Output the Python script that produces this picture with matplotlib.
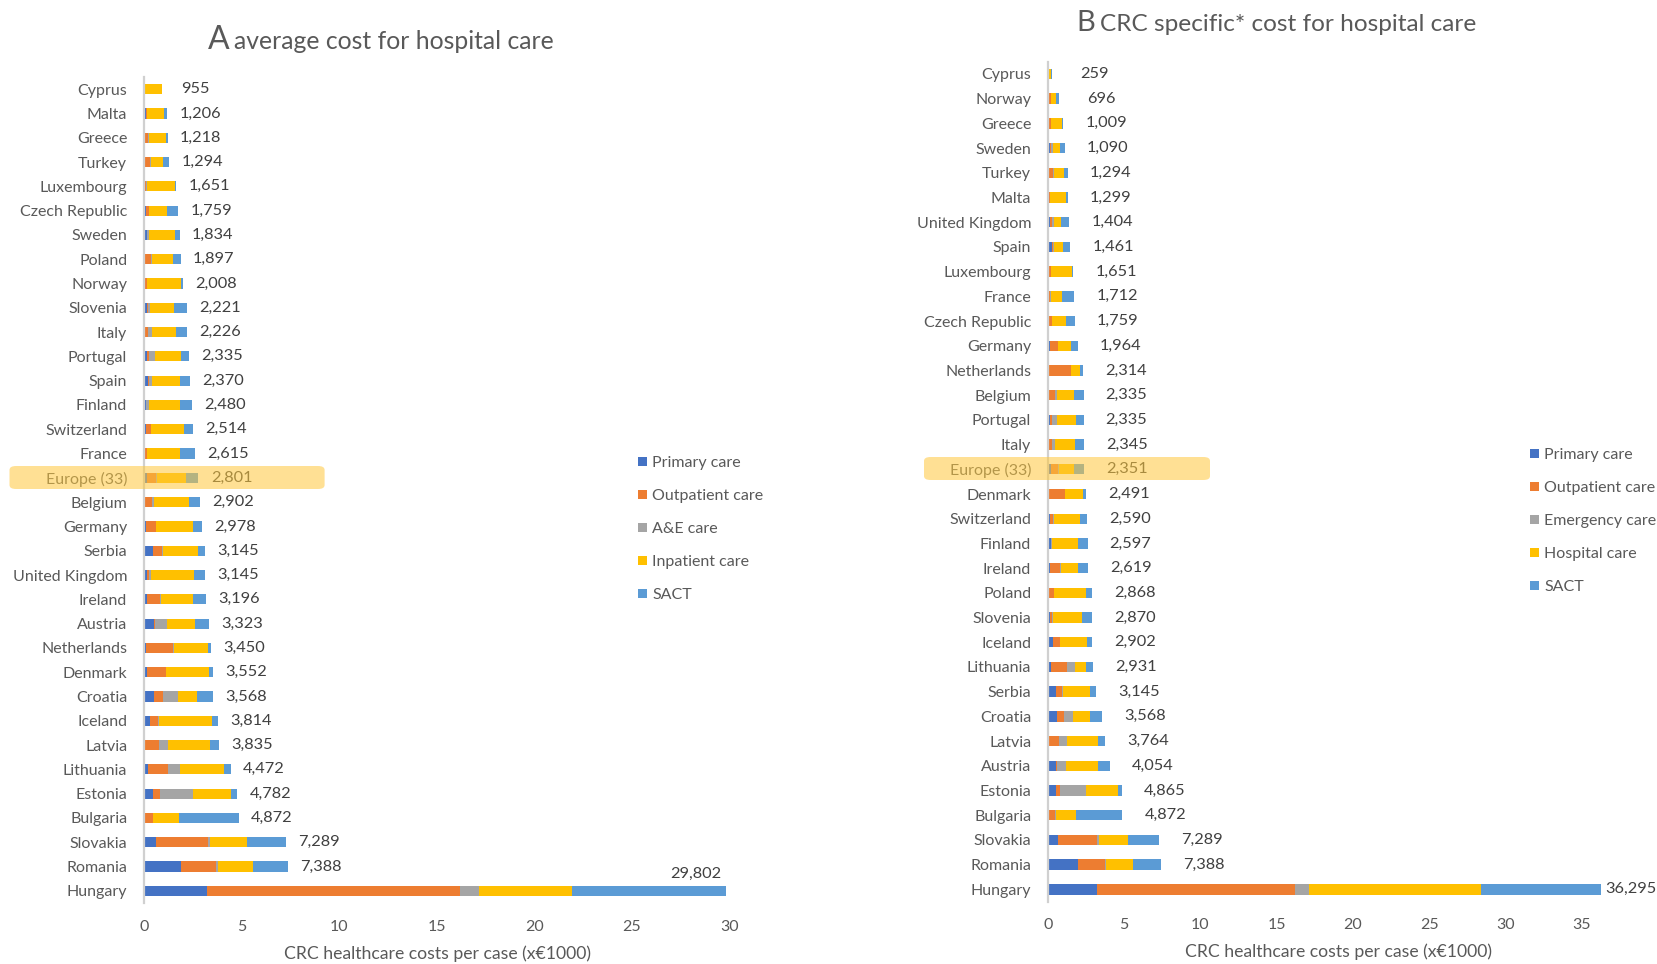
import numpy as np
import matplotlib
matplotlib.use("Agg")
import matplotlib.pyplot as plt
from matplotlib.patches import FancyBboxPatch, Patch

plt.rcParams["font.family"] = ["Lato", "DejaVu Sans"]

# ---------------- data (costs per case, x EUR 1000) ----------------
countries_a = ["Cyprus", "Malta", "Greece", "Turkey", "Luxembourg", "Czech Republic",
               "Sweden", "Poland", "Norway", "Slovenia", "Italy", "Portugal", "Spain",
               "Finland", "Switzerland", "France", "Europe (33)", "Belgium", "Germany",
               "Serbia", "United Kingdom", "Ireland", "Austria", "Netherlands", "Denmark",
               "Croatia", "Iceland", "Latvia", "Lithuania", "Estonia", "Bulgaria",
               "Slovakia", "Romania", "Hungary"]
primary_a = [0, 0.09, 0.07, 0, 0, 0.09, 0.155, 0.07, 0.01, 0.155, 0.087, 0.157, 0.225,
             0.105, 0.104, 0.01, 0.157, 0.07, 0.103, 0.487, 0.156, 0.172, 0.537, 0.124,
             0.173, 0.545, 0.297, 0.01, 0.198, 0.495, 0.074, 0.644, 1.907, 3.245]
outpatient_a = [0.06, 0.09, 0.14, 0.30, 0.125, 0.16, 0.02, 0.28, 0.15, 0.07, 0.14, 0.122,
                0.035, 0.02, 0.243, 0.15, 0.45, 0.365, 0.533, 0.452, 0.104, 0.67, 0.052,
                1.387, 0.966, 0.446, 0.446, 0.768, 1.065, 0.322, 0.396, 2.626, 1.784, 12.931]
ae_a = [0, 0, 0.05, 0.05, 0.05, 0.035, 0.09, 0.05, 0.01, 0.07, 0.19, 0.314, 0.14, 0.12,
        0.035, 0.02, 0.087, 0.087, 0.01, 0.052, 0.104, 0.052, 0.623, 0.05, 0.02, 0.768,
        0.01, 0.446, 0.595, 1.684, 0.025, 0.099, 0.099, 0.966]
inpatient_a = [0.86, 0.88, 0.865, 0.64, 1.42, 0.9, 1.33, 1.1, 1.75, 1.27, 1.235, 1.29,
               1.436, 1.606, 1.665, 1.673, 1.48, 1.807, 1.858, 1.807, 2.207, 1.65, 1.385,
               1.709, 2.2, 0.941, 2.725, 2.155, 2.254, 1.982, 1.313, 1.932, 1.808, 4.781]
sact_a = [0.035, 0.146, 0.093, 0.304, 0.056, 0.574, 0.239, 0.397, 0.088, 0.656, 0.574,
          0.452, 0.534, 0.629, 0.467, 0.762, 0.627, 0.573, 0.474, 0.347, 0.574, 0.652,
          0.726, 0.18, 0.193, 0.868, 0.336, 0.456, 0.36, 0.299, 3.064, 1.988, 1.79, 7.879]

countries_b = ["Cyprus", "Norway", "Greece", "Sweden", "Turkey", "Malta", "United Kingdom",
               "Spain", "Luxembourg", "France", "Czech Republic", "Germany", "Netherlands",
               "Belgium", "Portugal", "Italy", "Europe (33)", "Denmark", "Switzerland",
               "Finland", "Ireland", "Poland", "Slovenia", "Iceland", "Lithuania", "Serbia",
               "Croatia", "Latvia", "Austria", "Estonia", "Bulgaria", "Slovakia", "Romania",
               "Hungary"]
primary_b = [0, 0.01, 0.09, 0.136, 0, 0.066, 0.115, 0.29, 0, 0.01, 0.066, 0.15, 0.066,
             0.066, 0.15, 0.09, 0.2, 0.09, 0.13, 0.19, 0.13, 0.02, 0.17, 0.33, 0.2, 0.5,
             0.57, 0.01, 0.5, 0.5, 0.07, 0.64, 1.95, 3.2]
outpatient_b = [0.04, 0.2, 0.11, 0.068, 0.325, 0.088, 0.138, 0.02, 0.2, 0.13, 0.2, 0.48,
                1.44, 0.39, 0.15, 0.15, 0.48, 1.03, 0.22, 0.02, 0.66, 0.37, 0.13, 0.44,
                1.07, 0.43, 0.5, 0.73, 0.1, 0.3, 0.4, 2.6, 1.8, 12.97]
emergency_b = [0, 0.02, 0.02, 0.11, 0.046, 0.01, 0.115, 0.11, 0.02, 0.09, 0.01, 0.01, 0.02,
               0.13, 0.28, 0.22, 0.05, 0.02, 0.02, 0.03, 0.09, 0.04, 0.02, 0.01, 0.53, 0.03,
               0.6, 0.5, 0.57, 1.67, 0.03, 0.1, 0.04, 0.93]
hospital_b = [0.17, 0.3, 0.72, 0.5, 0.67, 0.99, 0.46, 0.56, 1.38, 0.67, 0.93, 0.85, 0.57,
              1.11, 1.24, 1.33, 1.0, 1.16, 1.75, 1.72, 1.09, 2.07, 1.9, 1.81, 0.73, 1.8,
              1.07, 2.03, 2.1, 2.1, 1.33, 1.93, 1.77, 11.27]
sact_b = [0.049, 0.166, 0.069, 0.276, 0.253, 0.145, 0.576, 0.481, 0.051, 0.812, 0.553,
          0.474, 0.218, 0.639, 0.515, 0.555, 0.621, 0.191, 0.47, 0.637, 0.649, 0.368,
          0.65, 0.312, 0.401, 0.385, 0.828, 0.494, 0.784, 0.295, 3.042, 2.019, 1.828, 7.925]

legend_a = ["Primary care", "Outpatient care", "A&E care", "Inpatient care", "SACT"]
legend_b = ["Primary care", "Outpatient care", "Emergency care", "Hospital care", "SACT"]
colors = ["#4472C4", "#ED7D31", "#A5A5A5", "#FFC000", "#5B9BD5"]

TXT = "#595959"
VAL = "#404040"
FS = 11.5
FV = 11.8
W, H = 1658, 964

fig = plt.figure(figsize=(W / 100, H / 100), dpi=100)


def fx(px):
    return px / W


def fy(py):
    return 1 - py / H


def panel(rect, countries, series, xmax, xticks, label_off, last_above):
    ax = fig.add_axes(rect)
    n = len(countries)
    y = np.arange(n)
    left = np.zeros(n)
    for vals, c in zip(series, colors):
        v = np.array(vals)
        ax.barh(y, v, left=left, height=0.42, color=c, linewidth=0)
        left += v
    ax.set_ylim(n - 0.5, -0.5)
    ax.set_xlim(0, xmax)
    ax.set_yticks(y)
    ax.set_yticklabels(countries, fontsize=FS, color=TXT)
    ax.set_xticks(xticks)
    ax.set_xticklabels([str(t) for t in xticks], fontsize=FS, color=TXT)
    ax.tick_params(axis="y", length=0, pad=12)
    ax.tick_params(axis="x", length=0, pad=12)
    for s in ["top", "right", "bottom"]:
        ax.spines[s].set_visible(False)
    ax.spines["left"].set_color("#D0D0D0")
    ax.spines["left"].set_linewidth(1.6)
    for i, tot in enumerate(left):
        txt = f"{round(tot * 1000):,}"
        if i == n - 1 and last_above:
            ax.annotate(txt, (tot, i), xytext=(-30, 17), textcoords="offset pixels",
                        ha="center", va="center", fontsize=FV, color=VAL,
                        annotation_clip=False)
        elif i == n - 1:
            ax.annotate(txt, (tot, i), xytext=(4, 0), textcoords="offset pixels",
                        ha="left", va="center", fontsize=FV, color=VAL,
                        annotation_clip=False)
        else:
            ax.annotate(txt, (tot, i), xytext=(label_off, 0), textcoords="offset pixels",
                        ha="center", va="center", fontsize=FV, color=VAL,
                        annotation_clip=False)
    return ax


# Panel A
ax_a = panel([fx(143.8), fy(903), fx(729.6 - 143.8), fy(77) - fy(903)],
             countries_a, [primary_a, outpatient_a, ae_a, inpatient_a, sact_a],
             30, [0, 5, 10, 15, 20, 25, 30], 33, True)
# Panel B
ax_b = panel([fx(1047.9), fy(901.7), fx(1658 - 1047.9), fy(61.6) - fy(901.7)],
             countries_b, [primary_b, outpatient_b, emergency_b, hospital_b, sact_b],
             40, [0, 5, 10, 15, 20, 25, 30, 35], 43, False)

# Highlight bands for the European average row
for (x0, x1, y0, y1) in [(9.5, 324.6, 466, 489), (924, 1210, 457, 480)]:
    band = FancyBboxPatch((fx(x0), fy(y1)), fx(x1 - x0), fy(y0) - fy(y1),
                          boxstyle="round,pad=0,rounding_size=0.004",
                          transform=fig.transFigure, facecolor="#FFC83D",
                          edgecolor="none", alpha=0.55, zorder=10)
    fig.patches.append(band)

# Legends
for ax, labels, anchor in [(ax_a, legend_a, (fx(638), fy(456))),
                           (ax_b, legend_b, (fx(1530), fy(448)))]:
    handles = [Patch(facecolor=c, edgecolor="none") for c in colors]
    fig.legend(handles, labels, loc="upper left", bbox_to_anchor=anchor,
               bbox_transform=fig.transFigure, frameon=False, fontsize=11.5,
               labelcolor=TXT, handlelength=0.55, handleheight=0.55,
               handletextpad=0.35, labelspacing=1.19, borderaxespad=0, borderpad=0)

# Titles
fig.text(fx(208), fy(49), "A", fontsize=23, color=TXT, ha="left", va="baseline")
fig.text(fx(234), fy(49), "average cost for hospital care", fontsize=17.8, color=TXT,
         ha="left", va="baseline")
fig.text(fx(1076), fy(31), "B", fontsize=21, color=TXT, ha="left", va="baseline")
fig.text(fx(1100), fy(31), "CRC specific* cost for hospital care", fontsize=17.6,
         color=TXT, ha="left", va="baseline")

# Axis titles
fig.text(fx(437), fy(954), "CRC healthcare costs per case (x€1000)", fontsize=12.7,
         color=TXT, ha="center", va="center")
fig.text(fx(1339), fy(952), "CRC healthcare costs per case (x€1000)", fontsize=12.7,
         color=TXT, ha="center", va="center")

fig.savefig("out.png", dpi=100, facecolor="white")
